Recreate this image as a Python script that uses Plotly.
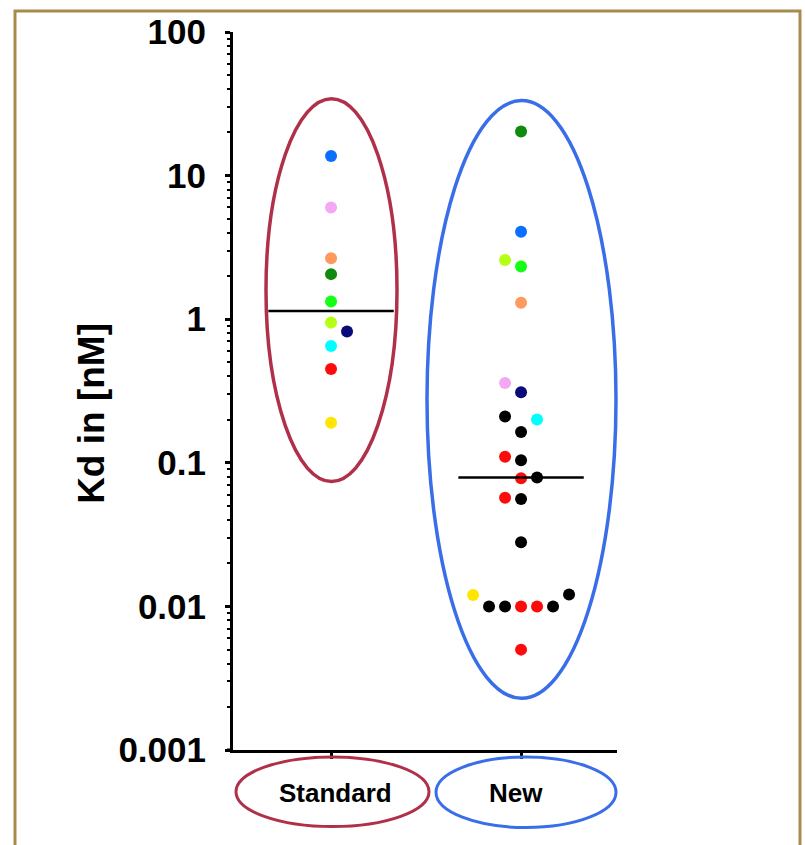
import numpy as np
import plotly.graph_objects as go

# ---------------- data ----------------
categories = ["Standard", "New"]
tick_values = [0.001, 0.01, 0.1, 1, 10, 100]
tick_labels = ["0.001", "0.01", "0.1", "1", "10", "100"]

standard_values = [13.7, 6.0, 2.66, 2.06, 1.33, 0.95, 0.82, 0.65, 0.45, 0.19]
standard_colors = ["#0A6EFF", "#F4A8F4", "#FF9A5E", "#0E8A0E", "#14FF14",
                   "#B4FF14", "#0A0A78", "#00FFFF", "#FF0A0A", "#FFE600"]
standard_slots = [0, 0, 0, 0, 0, 0, 1, 0, 0, 0]

new_values = [20.3, 4.06, 2.58, 2.33, 1.30, 0.36, 0.31, 0.21, 0.20, 0.164,
              0.11, 0.104, 0.078, 0.079, 0.057, 0.056, 0.028, 0.012, 0.0121,
              0.01, 0.01, 0.01, 0.01, 0.01, 0.005]
new_colors = ["#0E8A0E", "#0A6EFF", "#B4FF14", "#14FF14", "#FF9A5E", "#F4A8F4",
              "#0A0A78", "#000000", "#00FFFF", "#000000", "#FF0A0A", "#000000",
              "#FF0A0A", "#000000", "#FF0A0A", "#000000", "#000000", "#FFE600",
              "#000000", "#000000", "#000000", "#FF0A0A", "#FF0A0A", "#000000",
              "#FF0A0A"]
new_slots = [0, 0, -1, 0, 0, -1, 0, -1, 1, 0, -1, 0, 0, 1, -1, 0, 0, -3, 3,
             -2, -1, 0, 1, 2, 0]

# ---------------- layout constants ----------------
W, H = 805, 845
L, R, T, B = 233, 188, 28, 95
PW, PH = W - L - R, H - T - B
SLOT = 0.0842          # horizontal spacing of side-by-side dots (category units)
HALF = 0.33            # half width of the median line
FONT = "Liberation Sans, Arial, sans-serif"


def px(xp):
    return (xp - L) / PW


def py(yp):
    return (T + PH - yp) / PH


fig = go.Figure()

groups = [(0, standard_values, standard_colors, standard_slots),
          (1, new_values, new_colors, new_slots)]
for pos, vals, cols, slots in groups:
    fig.add_trace(go.Scatter(
        x=[pos + s * SLOT for s in slots], y=vals, mode="markers",
        marker=dict(color=cols, size=12, line=dict(width=0)),
        showlegend=False, hoverinfo="y"))
    med = float(np.median(vals))
    fig.add_trace(go.Scatter(
        x=[pos - HALF, pos + HALF], y=[med, med], mode="lines",
        line=dict(color="black", width=2.5), showlegend=False,
        hoverinfo="skip"))

minor_vals = [k * 10.0 ** e for e in range(-3, 2) for k in range(2, 10)]

fig.update_layout(
    width=W, height=H,
    margin=dict(l=L, r=R, t=T, b=B, pad=0),
    paper_bgcolor="white", plot_bgcolor="white",
    font=dict(family=FONT, color="black"),
    xaxis=dict(range=[-0.516, 1.505], tickvals=[0, 1], ticktext=categories,
               showticklabels=False, ticks="outside", ticklen=6, tickwidth=3,
               tickcolor="black", showline=True, linecolor="black",
               linewidth=3, showgrid=False, zeroline=False, fixedrange=True),
    yaxis=dict(type="log", range=[-3, 2], tickvals=tick_values,
               ticktext=tick_labels, ticks="outside", ticklen=5, tickwidth=3,
               tickcolor="black", showline=True, linecolor="black",
               linewidth=3, showgrid=False, zeroline=False,
               tickfont=dict(family=FONT, size=35, color="black",
                             weight="bold"),
               ticklabelstandoff=12,
               minor=dict(tickvals=minor_vals, ticks="outside", ticklen=3,
                          tickwidth=2, tickcolor="black", showgrid=False),
               fixedrange=True),
)

shapes = []
# enclosing ellipses
shapes.append(dict(type="circle", xref="paper", yref="paper",
                   x0=px(266), x1=px(397), y0=py(480), y1=py(95),
                   line=dict(color="#B0304A", width=3.5)))
shapes.append(dict(type="circle", xref="paper", yref="paper",
                   x0=px(427), x1=px(616), y0=py(698), y1=py(97),
                   line=dict(color="#3A6EE8", width=3.5)))
# label ellipses
shapes.append(dict(type="circle", xref="paper", yref="paper",
                   x0=px(236), x1=px(429), y0=py(827), y1=py(757),
                   line=dict(color="#B0304A", width=3)))
shapes.append(dict(type="circle", xref="paper", yref="paper",
                   x0=px(436), x1=px(616), y0=py(828), y1=py(757),
                   line=dict(color="#3A6EE8", width=3)))
# x-axis stub left of the y axis
shapes.append(dict(type="line", xref="paper", yref="paper",
                   x0=px(227), x1=px(233), y0=0, y1=0,
                   line=dict(color="black", width=3)))
# frame
shapes.append(dict(type="rect", xref="paper", yref="paper",
                   x0=px(15), x1=px(800), y0=py(860), y1=py(7),
                   line=dict(color="#A88B4C", width=3)))
fig.update_layout(shapes=shapes)

annotations = [
    dict(text="Standard", xref="paper", yref="paper", x=px(335), y=py(793),
         showarrow=False, xanchor="center", yanchor="middle",
         font=dict(family=FONT, size=26, color="black", weight="bold")),
    dict(text="New", xref="paper", yref="paper", x=px(516), y=py(793),
         showarrow=False, xanchor="center", yanchor="middle",
         font=dict(family=FONT, size=26, color="black", weight="bold")),
    dict(text="Kd in [nM]", xref="paper", yref="paper", x=px(92),
         y=py(412), showarrow=False, textangle=-90, xanchor="center",
         yanchor="middle",
         font=dict(family=FONT, size=37, color="black", weight="bold")),
]
fig.update_layout(annotations=annotations)

fig.write_html(
    "out.html",
    config={"displayModeBar": False},
    post_script="document.body.style.margin='0';"
                "document.body.style.overflow='hidden';")
